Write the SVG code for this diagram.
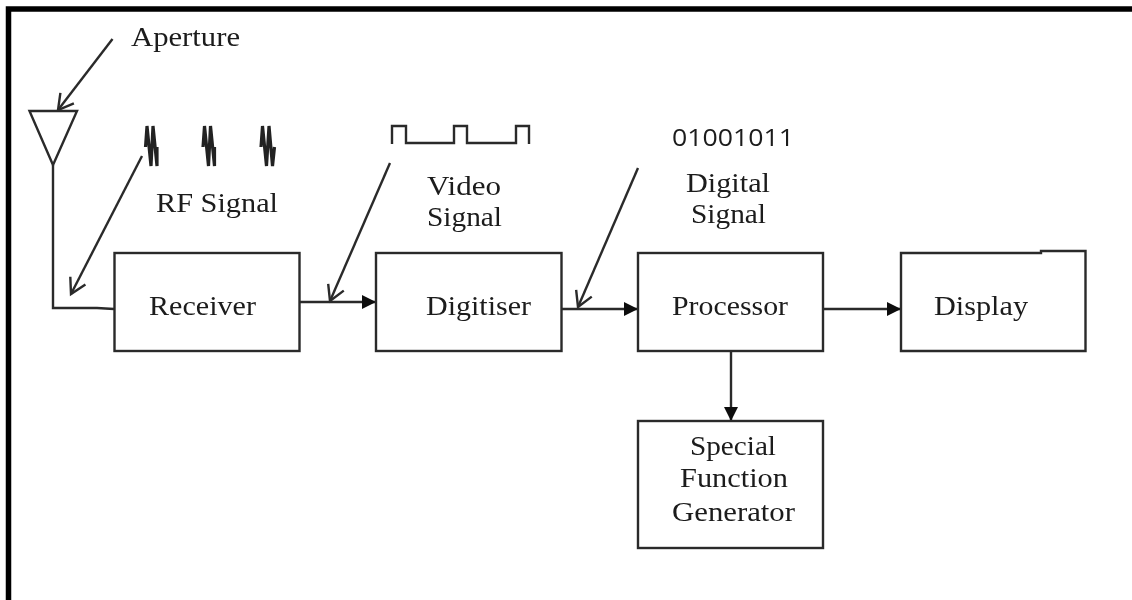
<svg xmlns="http://www.w3.org/2000/svg" width="1132" height="600" viewBox="0 0 1132 600">
<style>
text{font-family:"Liberation Serif","Times New Roman",serif;font-size:27px;fill:#1a1a1a}
.box{fill:#fff;stroke:#2a2a2a;stroke-width:2.4}
.ln{fill:none;stroke:#2a2a2a;stroke-width:2.4}
.wave{fill:none;stroke:#222;stroke-width:3.2}
</style>
<defs>
<filter id="soft" x="0" y="0" width="100%" height="100%"><feGaussianBlur stdDeviation="0.55"/></filter>
<marker id="solid" markerUnits="userSpaceOnUse" markerWidth="16" markerHeight="16" refX="14" refY="7.500" orient="auto"><path d="M0 0.500L14 7.500L0 14.500Z" fill="#111"/></marker>
<marker id="open" markerUnits="userSpaceOnUse" markerWidth="24" markerHeight="24" refX="20" refY="10" orient="auto"><path d="M5 1.500L20 10L5 18.500" fill="none" stroke="#2a2a2a" stroke-width="2.400"/></marker>
</defs>
<g filter="url(#soft)">
<rect x="0" y="0" width="1132" height="600" fill="#fff"/>
<path d="M8.500 603V9H1136" fill="none" stroke="#000" stroke-width="5.500"/>
<g id="connectors">
<path class="ln" d="M53 165V308H97L114 309"/>
<path class="ln" d="M112.500 39L58 110" marker-end="url(#open)"/>
<path class="ln" d="M142 156L71 294" marker-end="url(#open)"/>
<path class="ln" d="M390 163L330 301" marker-end="url(#open)"/>
<path class="ln" d="M638 168L578 307" marker-end="url(#open)"/>
<path class="ln" d="M300 302H376" marker-end="url(#solid)"/>
<path class="ln" d="M562 309H638" marker-end="url(#solid)"/>
<path class="ln" d="M823 309H901" marker-end="url(#solid)"/>
<path class="ln" d="M731 351V421" marker-end="url(#solid)"/>
</g>
<g id="aperture-antenna"><path class="ln" d="M29.500 111H77L53 165Z"/></g>
<g id="aperture-label"><text x="131" y="46" textLength="109" lengthAdjust="spacingAndGlyphs">Aperture</text></g>
<g id="rf-signal">
<path class="wave" d="M145.500 147L147 126L151 166L153 126L157 166V147"/>
<path class="wave" d="M203 147L204.500 126L208.500 166L210.500 126L214.500 166V147"/>
<path class="wave" d="M261 147L262.500 126L266.500 166L269 126L272.500 166L274.500 147"/>
<text x="156" y="212" textLength="122" lengthAdjust="spacingAndGlyphs">RF Signal</text>
</g>
<g id="video-signal">
<path class="ln" d="M392 144V126H406V143H454V126H467V143H516V126H529V144"/>
<text x="427" y="195" textLength="74" lengthAdjust="spacingAndGlyphs">Video</text>
<text x="427" y="226" textLength="75" lengthAdjust="spacingAndGlyphs">Signal</text>
</g>
<g id="digital-signal">
<text x="672" y="146" textLength="122" lengthAdjust="spacingAndGlyphs" style="font-family:'Open Sans','Liberation Sans',sans-serif;font-size:24px">01001011</text>
<text x="686" y="192" textLength="84" lengthAdjust="spacingAndGlyphs">Digital</text>
<text x="691" y="223" textLength="75" lengthAdjust="spacingAndGlyphs">Signal</text>
</g>
<g id="receiver"><rect class="box" x="114.500" y="253" width="185" height="98"/><text x="149" y="315" textLength="107" lengthAdjust="spacingAndGlyphs">Receiver</text></g>
<g id="digitiser"><rect class="box" x="376" y="253" width="185.500" height="98"/><text x="426" y="315" textLength="105" lengthAdjust="spacingAndGlyphs">Digitiser</text></g>
<g id="processor"><rect class="box" x="638" y="253" width="185" height="98"/><text x="672" y="315" textLength="116" lengthAdjust="spacingAndGlyphs">Processor</text></g>
<g id="display"><path class="box" d="M901 253H1041V251H1085.500V351H901Z"/><text x="934" y="315" textLength="94" lengthAdjust="spacingAndGlyphs">Display</text></g>
<g id="special-function-generator"><rect class="box" x="638" y="421" width="185" height="127"/>
<text x="690" y="455" textLength="86" lengthAdjust="spacingAndGlyphs">Special</text><text x="680" y="487" textLength="108" lengthAdjust="spacingAndGlyphs">Function</text><text x="672" y="521" textLength="123" lengthAdjust="spacingAndGlyphs">Generator</text></g>
</g>
</svg>
